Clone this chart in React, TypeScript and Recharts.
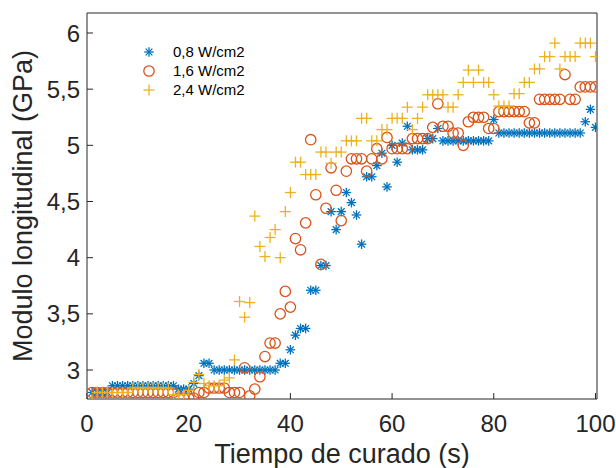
import React from 'react';
import { ScatterChart, Scatter, XAxis, YAxis, Legend, Label } from 'recharts';

const tiempo = [
  1, 2, 3, 4, 5, 6, 7, 8, 9, 10, 11, 12, 13, 14, 15, 16, 17, 18, 19, 20,
  21, 22, 23, 24, 25, 26, 27, 28, 29, 30, 31, 32, 33, 34, 35, 36, 37, 38, 39, 40,
  41, 42, 43, 44, 45, 46, 47, 48, 49, 50, 51, 52, 53, 54, 55, 56, 57, 58, 59, 60,
  61, 62, 63, 64, 65, 66, 67, 68, 69, 70, 71, 72, 73, 74, 75, 76, 77, 78, 79, 80,
  81, 82, 83, 84, 85, 86, 87, 88, 89, 90, 91, 92, 93, 94, 95, 96, 97, 98, 99, 100,
];

// 0,8 W/cm2
const mod08 = [
  2.8, 2.8, 2.8, 2.8, 2.86, 2.86, 2.86, 2.86, 2.86, 2.86, 2.86, 2.86, 2.86, 2.86, 2.86, 2.86, 2.86, 2.83, 2.83, 2.83,
  2.88, 2.95, 3.06, 3.06, 3.0, 3.0, 3.0, 3.0, 3.0, 3.0, 3.0, 3.0, 3.0, 3.0, 3.0, 3.0, 3.0, 3.06, 3.06, 3.18,
  3.31, 3.37, 3.37, 3.71, 3.71, 3.93, 3.93, 4.41, 4.25, 4.41, 4.58, 4.49, 4.38, 4.12, 4.72, 4.72, 4.82, 4.93, 4.63, 5.0,
  4.85, 5.02, 5.17, 4.96, 4.96, 4.96, 5.06, 5.06, 5.15, 5.04, 5.04, 5.04, 5.04, 5.04, 5.04, 5.04, 5.04, 5.04, 5.04, 5.23,
  5.11, 5.11, 5.11, 5.11, 5.11, 5.11, 5.11, 5.11, 5.11, 5.11, 5.11, 5.11, 5.11, 5.11, 5.11, 5.11, 5.11, 5.21, 5.32, 5.16,
];

// 1,6 W/cm2
const mod16 = [
  2.8, 2.8, 2.8, 2.8, 2.8, 2.8, 2.8, 2.8, 2.8, 2.8, 2.8, 2.8, 2.8, 2.8, 2.8, 2.8, 2.8, 2.75, 2.75, 2.75,
  2.75, 2.8, 2.8, 2.84, 2.84, 2.84, 2.84, 2.8, 2.8, 2.8, 3.02, 2.77, 2.83, 2.94, 3.12, 3.24, 3.24, 3.5, 3.7, 3.56,
  4.17, 4.07, 4.31, 5.05, 4.56, 3.94, 4.44, 4.8, 4.6, 4.33, 4.77, 4.88, 4.88, 4.88, 4.77, 4.88, 4.97, 4.88, 5.07, 4.97,
  4.97, 4.97, 4.97, 5.06, 5.06, 5.06, 5.06, 5.16, 5.37, 5.17, 5.17, 5.11, 5.11, 5.0, 5.21, 5.25, 5.25, 5.25, 5.15, 5.15,
  5.3, 5.3, 5.3, 5.3, 5.3, 5.3, 5.2, 5.2, 5.41, 5.41, 5.41, 5.41, 5.41, 5.63, 5.41, 5.41, 5.52, 5.52, 5.52, 5.52,
];

// 2,4 W/cm2
const mod24 = [
  2.73, 2.8, 2.8, 2.8, 2.8, 2.8, 2.8, 2.8, 2.84, 2.84, 2.84, 2.84, 2.84, 2.84, 2.84, 2.84, 2.78, 2.78, 2.78, 2.82,
  2.89, 2.96, 2.88, 2.86, 2.86, 2.86, 2.91, 2.93, 3.09, 3.61, 3.47, 3.6, 4.37, 4.1, 4.01, 4.18, 4.25, 4.0, 4.41, 4.58,
  4.85, 4.85, 4.74, 4.74, 4.74, 4.94, 4.94, 4.84, 4.94, 4.94, 5.04, 5.04, 5.04, 5.24, 5.24, 5.04, 5.04, 5.14, 5.14, 5.24,
  5.24, 5.24, 5.34, 5.14, 5.24, 5.34, 5.45, 5.45, 5.45, 5.45, 5.34, 5.34, 5.45, 5.56, 5.67, 5.56, 5.67, 5.56, 5.56, 5.45,
  5.35, 5.35, 5.35, 5.46, 5.46, 5.56, 5.56, 5.68, 5.68, 5.79, 5.79, 5.91, 5.68, 5.79, 5.79, 5.79, 5.91, 5.91, 5.91, 5.79,
];

const seriesNames = ['0,8 W/cm2', '1,6 W/cm2', '2,4 W/cm2'];
const xTicks = [0, 20, 40, 60, 80, 100];
const yTicks = [3, 3.5, 4, 4.5, 5, 5.5, 6];

const FONT = '"Liberation Sans", Arial, Helvetica, sans-serif';
const AXIS = '#262626';
const BLUE = '#0072BD';
const ORANGE = '#D95319';
const YELLOW = '#EDB120';

const X_DOMAIN = [0, 100.3];
const Y_DOMAIN = [2.742, 6.178];

const toPoints = (vals: number[]) => tiempo.map((t, i) => ({ x: t, y: vals[i] }));

const Star = ({ cx, cy }: any) => {
  const r = 4.8;
  const d = r * 0.7;
  return (
    <g stroke={BLUE} strokeWidth={1.3}>
      <line x1={cx - r} y1={cy} x2={cx + r} y2={cy} />
      <line x1={cx} y1={cy - r} x2={cx} y2={cy + r} />
      <line x1={cx - d} y1={cy - d} x2={cx + d} y2={cy + d} />
      <line x1={cx - d} y1={cy + d} x2={cx + d} y2={cy - d} />
    </g>
  );
};

const Ring = ({ cx, cy }: any) => (
  <circle cx={cx} cy={cy} r={5.2} fill="none" stroke={ORANGE} strokeWidth={1.3} />
);

const Plus = ({ cx, cy }: any) => {
  const r = 5.5;
  return (
    <g stroke={YELLOW} strokeWidth={1.3}>
      <line x1={cx - r} y1={cy} x2={cx + r} y2={cy} />
      <line x1={cx} y1={cy - r} x2={cx} y2={cy + r} />
    </g>
  );
};

const markers = [Star, Ring, Plus];

const LegendBox = () => (
  <div style={{ fontFamily: FONT, fontSize: 15, color: '#000' }}>
    {seriesNames.map((name, i) => {
      const M = markers[i];
      return (
        <div key={name} style={{ display: 'flex', alignItems: 'center', height: 19 }}>
          <svg width={18} height={18}>
            <M cx={9} cy={9} />
          </svg>
          <span style={{ marginLeft: 15, lineHeight: '19px' }}>{name}</span>
        </div>
      );
    })}
  </div>
);

const fmt = (v: number) => String(v).replace('.', ',');

export default function App() {
  return (
    <div style={{ position: 'absolute', left: 0, top: 0, background: '#fff' }}>
      <ScatterChart width={616} height={468} margin={{ top: 0, right: 0, bottom: 0, left: 0 }} style={{ fontFamily: FONT }}>
        <XAxis
          xAxisId="bottom"
          dataKey="x"
          type="number"
          domain={X_DOMAIN}
          ticks={xTicks}
          allowDataOverflow
          height={69}
          tickSize={-6}
          tickMargin={22}
          axisLine={{ stroke: AXIS }}
          tickLine={{ stroke: AXIS }}
          tick={{ fontSize: 24, fill: AXIS, fontFamily: FONT }}
        >
          <Label value="Tiempo de curado (s)" position="insideBottom" offset={5} fontSize={27} fill={AXIS} fontFamily={FONT} />
        </XAxis>
        <XAxis
          xAxisId="top"
          orientation="top"
          type="number"
          domain={X_DOMAIN}
          ticks={xTicks}
          allowDataOverflow
          height={13}
          tickSize={-6}
          tick={false}
          axisLine={{ stroke: AXIS }}
          tickLine={{ stroke: AXIS }}
        />
        <YAxis
          yAxisId="left"
          dataKey="y"
          type="number"
          domain={Y_DOMAIN}
          ticks={yTicks}
          allowDataOverflow
          width={87}
          tickSize={-6}
          tickMargin={13}
          tickFormatter={fmt}
          axisLine={{ stroke: AXIS }}
          tickLine={{ stroke: AXIS }}
          tick={{ fontSize: 24, fill: AXIS, fontFamily: FONT }}
        >
          <Label
            content={() => (
              <text
                x={23}
                y={206}
                transform="rotate(-90 23 206)"
                textAnchor="middle"
                dominantBaseline="central"
                fontSize={27}
                fill={AXIS}
                fontFamily={FONT}
              >
                Modulo longitudinal (GPa)
              </text>
            )}
          />
        </YAxis>
        <YAxis
          yAxisId="right"
          orientation="right"
          type="number"
          domain={Y_DOMAIN}
          ticks={yTicks}
          allowDataOverflow
          width={19}
          tickSize={-6}
          tick={false}
          axisLine={{ stroke: AXIS }}
          tickLine={{ stroke: AXIS }}
        />
        <Scatter
          name={seriesNames[0]}
          data={toPoints(mod08)}
          xAxisId="bottom"
          yAxisId="left"
          fill={BLUE}
          shape={(p: any) => <Star cx={p.cx} cy={p.cy} />}
          isAnimationActive={false}
        />
        <Scatter
          name={seriesNames[1]}
          data={toPoints(mod16)}
          xAxisId="bottom"
          yAxisId="left"
          fill={ORANGE}
          shape={(p: any) => <Ring cx={p.cx} cy={p.cy} />}
          isAnimationActive={false}
        />
        <Scatter
          name={seriesNames[2]}
          data={toPoints(mod24)}
          xAxisId="bottom"
          yAxisId="left"
          fill={YELLOW}
          shape={(p: any) => <Plus cx={p.cx} cy={p.cy} />}
          isAnimationActive={false}
        />
        <Legend
          layout="vertical"
          align="center"
          verticalAlign="middle"
          wrapperStyle={{ left: 140, top: 42, width: 'auto' }}
          content={() => <LegendBox />}
        />
      </ScatterChart>
    </div>
  );
}
